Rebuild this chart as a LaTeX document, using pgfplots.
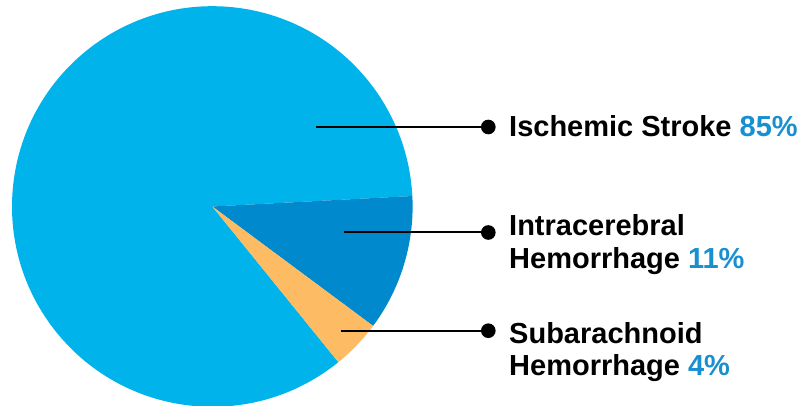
\documentclass[border=0pt]{standalone}
\usepackage{pgfplots}
\pgfplotsset{compat=1.18}
\usepackage{fontspec}
\setmainfont{Liberation Sans}
\definecolor{ischemic}{RGB}{0,179,234}
\definecolor{intra}{RGB}{0,137,204}
\definecolor{subar}{RGB}{253,187,99}
\definecolor{pct}{RGB}{24,144,208}

\begin{document}
\begin{tikzpicture}
\useasboundingbox (0,0) rectangle (802pt,406pt);
% pie geometry (axis units = pt)
\def\cx{212.3}\def\cy{199.5}\def\r{200.3}
% shares in percent
\def\vIsch{85}\def\vIntra{11}\def\vSub{4}
\pgfmathsetmacro\aA{3}
\pgfmathsetmacro\aB{\aA-\vIntra*3.6}
\pgfmathsetmacro\aC{\aB-\vSub*3.6}
\begin{axis}[
    at={(0,0)}, anchor=south west,
    x=1pt, y=1pt,
    xmin=0, xmax=802, ymin=0, ymax=406,
    hide axis, clip=false,
]
    % wedges
    \fill[ischemic] (axis cs:\cx,\cy) -- ++(\aC:\r pt)
        arc[start angle=\aC, delta angle=-\vIsch*3.6, radius=\r pt] -- cycle;
    \fill[intra] (axis cs:\cx,\cy) -- ++(\aA:\r pt)
        arc[start angle=\aA, delta angle=-\vIntra*3.6, radius=\r pt] -- cycle;
    \fill[subar] (axis cs:\cx,\cy) -- ++(\aB:\r pt)
        arc[start angle=\aB, delta angle=-\vSub*3.6, radius=\r pt] -- cycle;

    % leader lines with dots
    \addplot[black, line width=2pt, mark=*, mark indices={2}, mark size=6.3pt]
        coordinates {(316.3,279) (488.3,279)};
    \addplot[black, line width=2pt, mark=*, mark indices={2}, mark size=6.3pt]
        coordinates {(344,173.5) (488.3,173.5)};
    \addplot[black, line width=2pt, mark=*, mark indices={2}, mark size=6.3pt]
        coordinates {(340.7,75.3) (488.3,75.3)};

    % labels
    \tikzset{lbl/.style={anchor=base west, inner sep=0pt,
        font=\fontsize{29}{32.4}\selectfont\bfseries}}
    \node[lbl] at (axis cs:509,269.3) {Ischemic Stroke \textcolor{pct}{85\%}};
    \node[lbl] at (axis cs:509,170) {Intracerebral};
    \node[lbl] at (axis cs:509,137.7) {Hemorrhage \textcolor{pct}{11\%}};
    \node[lbl] at (axis cs:509,62.7) {Subarachnoid};
    \node[lbl] at (axis cs:509,30.3) {Hemorrhage \textcolor{pct}{4\%}};
\end{axis}
\end{tikzpicture}
\end{document}
